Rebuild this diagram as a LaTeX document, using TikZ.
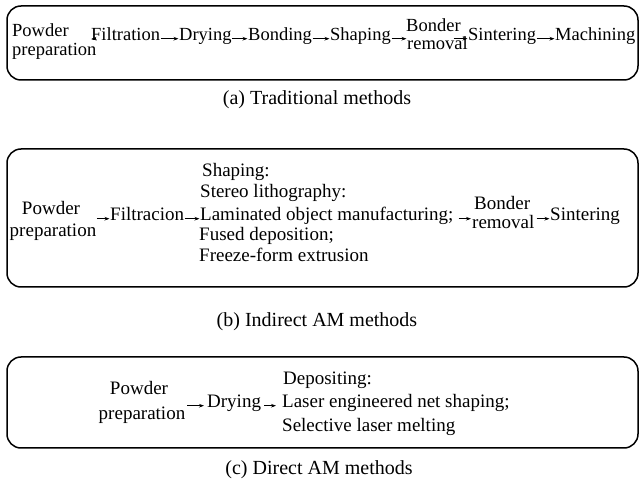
\documentclass[tikz,border=0pt]{standalone}
\usepackage{fontspec}
\setmainfont{Liberation Serif}
\usetikzlibrary{arrows.meta}
\begin{document}
\begin{tikzpicture}[x=1pt,y=-1pt,
  txt/.style={inner sep=0pt, font=\fontsize{18.5}{22}\selectfont, anchor=base west},
  txtb/.style={inner sep=0pt, font=\fontsize{19}{22}\selectfont, anchor=base west},
  ctr/.style={txtb, anchor=base},
  captxt/.style={inner sep=0pt, font=\fontsize{20}{24}\selectfont, anchor=base},
  frame/.style={draw, line width=1.5pt, rounded corners=14pt},
  arr/.style={-{Stealth[length=5pt,width=3.6pt]}, line width=0.6pt, shorten <=0.5pt, shorten >=0.5pt}]
\useasboundingbox (0,0) rectangle (641,489);
\fill[white] (0,0) rectangle (641,489);
% frames
\draw[frame] (7,6) rectangle (638,80);
\draw[frame] (7,149) rectangle (638,287);
\draw[frame] (7,357) rectangle (638,448);
% (a)
\node[txt] (pa1) at (12,37) {Powder};
\node[txt] (pa2) at (12,56) {preparation};
\node[txt] (filt) at (91,41) {Filtration};
\node[txt] (dry) at (179,41) {Drying};
\node[txt] (bond) at (248,41) {Bonding};
\node[txt] (shap) at (330,41) {Shaping};
\node[txt] (bo1) at (406,32) {Bonder};
\node[txt] (bo2) at (407,50) {removal};
\node[txt] (sint) at (468,41) {Sintering};
\node[txt] (mach) at (555,41) {Machining};
\draw[arr] (pa2.east |- filt.mid) -- (filt.mid west);
\draw[arr] (filt.mid east) -- (dry.mid west);
\draw[arr] (dry.mid east) -- (bond.mid west);
\draw[arr] (bond.mid east) -- (shap.mid west);
\draw[arr] (shap.mid east) -- (bo2.west |- shap.mid);
\draw[arr] ([xshift=-15pt]sint.mid west) -- (sint.mid west);
\draw[arr] (sint.mid east) -- (mach.mid west);
\node[captxt] (capa) at (317,105) {(a) Traditional methods};
% (b)
\node[ctr] (pb1) at (51,215) {Powder};
\node[ctr] (pb2) at (53,237) {preparation};
\node[txtb] (filtb) at (110,221) {Filtracion};
\node[txtb] (lb1) at (202,177) {Shaping:};
\node[txtb] (lb2) at (200,198) {Stereo lithography:};
\node[txtb] (lb3) at (200,221) {Laminated object manufacturing;};
\node[txtb] (lb4) at (199,241) {Fused deposition;};
\node[txtb] (lb5) at (199,262) {Freeze-form extrusion};
\node[txtb] (bb1) at (474,210) {Bonder};
\node[txtb] (bb2) at (472,229) {removal};
\node[txtb] (sintb) at (550,221) {Sintering};
\draw[arr] (pb2.east |- filtb.mid) -- (filtb.mid west);
\draw[arr] (filtb.mid east) -- (lb3.mid west);
\draw[arr, shorten <=5pt, shorten >=1pt] (lb3.mid east) -- (bb2.west |- lb3.mid);
\draw[arr] ([xshift=-14pt]sintb.mid west) -- (sintb.mid west);
\node[captxt] (capb) at (317,327) {(b) Indirect AM methods};
% (c)
\node[ctr] (pc1) at (139,395) {Powder};
\node[ctr] (pc2) at (142,420) {preparation};
\node[txtb] (dryc) at (207,408) {Drying};
\node[txtb] (lc1) at (283,385) {Depositing:};
\node[txtb] (lc2) at (282,408) {Laser engineered net shaping;};
\node[txtb] (lc3) at (282,432) {Selective laser melting};
\draw[arr, shorten <=2pt, shorten >=3pt] (pc2.east |- dryc.mid) -- (dryc.mid west);
\draw[arr, shorten <=3pt, shorten >=6pt] (dryc.mid east) -- (lc2.west |- dryc.mid);
\node[captxt] (capc) at (319,475) {(c) Direct AM methods};
\end{tikzpicture}
\end{document}
